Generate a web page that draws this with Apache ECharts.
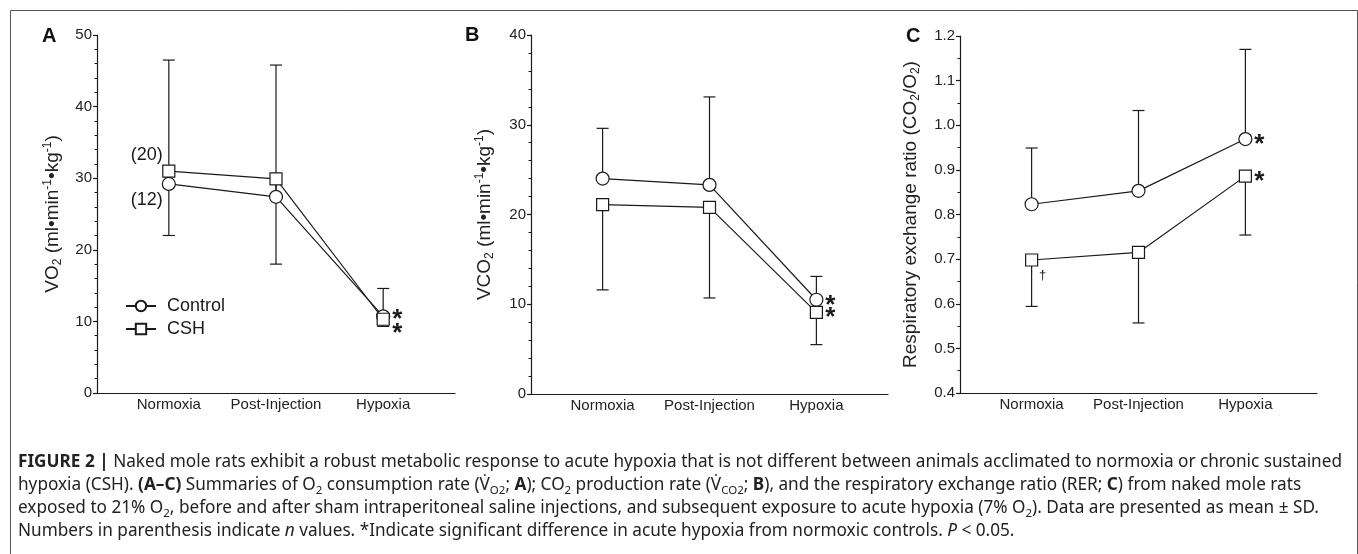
<!DOCTYPE html>
<html>
<head>
<meta charset="utf-8">
<script src="https://cdn.jsdelivr.net/npm/echarts@6/dist/echarts.min.js"></script>
<style>
html,body{margin:0;padding:0;background:#fff;}
#chart{width:1358px;height:554px;}
</style>
</head>
<body>
<div id="chart"></div>
<script>
// ---------- data ----------
const categories = ['Normoxia', 'Post-Injection', 'Hypoxia'];

// Panel A: VO2 (ml/min/kg)
const vo2Control = [29.2, 27.4, 10.7];
const vo2ControlSD = [17.3, 18.4, 3.9];   // drawn upward
const vo2CSH = [31.0, 29.9, 10.3];
const vo2CSHSD = [9.0, 11.9, 1.0];        // drawn downward

// Panel B: VCO2 (ml/min/kg)
const vco2Control = [24.0, 23.3, 10.5];
const vco2ControlSD = [5.6, 9.8, 2.6];
const vco2CSH = [21.1, 20.8, 9.1];
const vco2CSHSD = [9.5, 10.1, 3.6];

// Panel C: RER
const rerControl = [0.823, 0.853, 0.969];
const rerControlSD = [0.126, 0.180, 0.201];
const rerCSH = [0.698, 0.715, 0.886];
const rerCSHSD = [0.104, 0.158, 0.132];

// significance marks
const sigControl = [false, false, true];
const sigCSH = [false, false, true];
const daggerCSH_C = [true, false, false];

// n values (panel A, normoxia)
const nControl = 12;
const nCSH = 20;

// axis ticks
const yTicksA = {min: 0, max: 50, interval: 10};
const yTicksB = {min: 0, max: 40, interval: 10};
const yTicksC = {min: 0.4, max: 1.2, interval: 0.1};

// ---------- chart ----------
const FONT = '"Liberation Sans", Arial, Helvetica, sans-serif';
const CAPFONT = '"Noto Sans", "Liberation Sans", Arial, sans-serif';
const INK = '#1a1a1a';
const chart = echarts.init(document.getElementById('chart'), null, {renderer: 'canvas'});

const grids = [
  {left: 97, top: 35, width: 358, height: 358},
  {left: 531, top: 35, width: 357, height: 359},
  {left: 960, top: 36, width: 357, height: 357}
];

function xAxisDef(i) {
  return {
    type: 'value', gridIndex: i, min: 0.33, max: 3.67,
    axisLine: {show: true, lineStyle: {color: INK, width: 1.2}},
    axisTick: {show: false},
    splitLine: {show: false},
    axisLabel: {
      show: true, customValues: [1, 2, 3], margin: 4,
      fontSize: 15, color: '#222', fontFamily: FONT,
      formatter: v => categories[Math.round(v) - 1] || ''
    }
  };
}

function yAxisDef(i, t, name, gap, minorSplit, dec) {
  return {
    type: 'value', gridIndex: i, min: t.min, max: t.max, interval: t.interval,
    name: name, nameLocation: 'middle', nameGap: gap, nameRotate: 90,
    nameTextStyle: {
      fontFamily: FONT, color: '#222', fontSize: 19,
      rich: {
        n: {fontSize: 19, lineHeight: 22, fontFamily: FONT, color: '#222'},
        sub: {fontSize: 12, lineHeight: 14, verticalAlign: 'bottom', fontFamily: FONT, color: '#222'},
        sup: {fontSize: 12, lineHeight: 12, verticalAlign: 'top', fontFamily: FONT, color: '#222'}
      }
    },
    axisLine: {show: true, lineStyle: {color: INK, width: 1.2}},
    axisTick: {show: true, length: 4, lineStyle: {color: INK, width: 1.2}},
    minorTick: {show: true, splitNumber: minorSplit, length: 2.5, lineStyle: {color: INK, width: 1}},
    splitLine: {show: false},
    axisLabel: {
      margin: 5, fontSize: 15, color: '#222', fontFamily: FONT,
      formatter: v => dec ? v.toFixed(dec) : String(Math.round(v))
    }
  };
}

function starLabel(dy) {
  return {
    show: true, position: 'inside', formatter: '*', offset: [14, dy],
    fontSize: 26, fontWeight: 'bold', color: INK, fontFamily: FONT
  };
}

function lineSeries(name, idx, vals, symbol, size, sig, sigDy, extraLabels) {
  return {
    type: 'line', name: name, xAxisIndex: idx, yAxisIndex: idx,
    symbol: symbol, symbolSize: size, showSymbol: true,
    lineStyle: {color: INK, width: 1.2},
    itemStyle: {color: '#fff', borderColor: INK, borderWidth: 1.2},
    z: 5, silent: true, animation: false,
    data: vals.map((v, k) => {
      const item = {value: [k + 1, v]};
      if (sig[k]) item.label = starLabel(sigDy);
      if (extraLabels && extraLabels[k]) item.label = extraLabels[k];
      return item;
    })
  };
}

function errSeries(idx, means, sds, dir) {
  return {
    type: 'custom', xAxisIndex: idx, yAxisIndex: idx, z: 2, silent: true, animation: false,
    encode: {x: 0, y: [1, 2]},
    data: means.map((m, k) => [k + 1, m, m + dir * sds[k]]),
    renderItem: function (params, api) {
      const x = api.value(0);
      const p0 = api.coord([x, api.value(1)]);
      const p1 = api.coord([x, api.value(2)]);
      const hw = 6;
      const st = {stroke: INK, lineWidth: 1.2};
      return {
        type: 'group',
        children: [
          {type: 'line', shape: {x1: p0[0], y1: p0[1], x2: p1[0], y2: p1[1]}, style: st},
          {type: 'line', shape: {x1: p1[0] - hw, y1: p1[1], x2: p1[0] + hw, y2: p1[1]}, style: st}
        ]
      };
    }
  };
}

const nameA = '{n|VO}{sub|2}{n| (ml•min}{sup|-1}{n|•kg}{sup|-1}{n|)}';
const nameB = '{n|VCO}{sub|2}{n| (ml•min}{sup|-1}{n|•kg}{sup|-1}{n|)}';
const nameC = '{n|Respiratory exchange ratio (CO}{sub|2}{n|/O}{sub|2}{n|)}';

const nLabelStyle = {fontSize: 18, color: INK, fontFamily: FONT, position: 'inside', show: true};

const aCtrlLabels = [
  Object.assign({}, nLabelStyle, {formatter: '(' + nControl + ')', offset: [-22, 16]}), null, null
];
const aCSHLabels = [
  Object.assign({}, nLabelStyle, {formatter: '(' + nCSH + ')', offset: [-22, -16]}), null, null
];
const cCSHLabels = daggerCSH_C.map(d => d ? {
  show: true, position: 'inside', formatter: '†', offset: [11, 15],
  fontSize: 13, color: INK, fontFamily: FONT
} : null);

const caption =
  '{b|FIGURE 2 |} Naked mole rats exhibit a robust metabolic response to acute hypoxia that is not different between animals acclimated to normoxia or chronic sustained\n' +
  'hypoxia (CSH). {b|(A–C)} Summaries of O{sub|2} consumption rate (V\u0307{sub|O2}; {b|A}); CO{sub|2} production rate (V\u0307{sub|CO2}; {b|B}), and the respiratory exchange ratio (RER; {b|C}) from naked mole rats\n' +
  'exposed to 21% O{sub|2}, before and after sham intraperitoneal saline injections, and subsequent exposure to acute hypoxia (7% O{sub|2}). Data are presented as mean ± SD.\n' +
  'Numbers in parenthesis indicate {i|n} values. *Indicate significant difference in acute hypoxia from normoxic controls. {i|P} < 0.05.';

const CAP = 17.2;
const option = {
  backgroundColor: '#fff',
  animation: false,
  textStyle: {fontFamily: FONT},
  grid: grids,
  xAxis: [xAxisDef(0), xAxisDef(1), xAxisDef(2)],
  yAxis: [
    yAxisDef(0, yTicksA, nameA, 33, 5, 0),
    yAxisDef(1, yTicksB, nameB, 35, 5, 0),
    yAxisDef(2, yTicksC, nameC, 38, 2, 1)
  ],
  legend: {
    show: true, orient: 'vertical', left: 120, top: 292,
    itemWidth: 30, itemHeight: 13, itemGap: 5,
    selectedMode: false,
    data: ['Control', 'CSH'],
    textStyle: {fontSize: 18, color: INK, fontFamily: FONT, padding: [0, 0, 0, 6]}
  },
  series: [
    errSeries(0, vo2Control, vo2ControlSD, 1),
    errSeries(0, vo2CSH, vo2CSHSD, -1),
    lineSeries('Control', 0, vo2Control, 'circle', 13, sigControl, 3, null),
    lineSeries('CSH', 0, vo2CSH, 'rect', 12, sigCSH, 15, null),

    errSeries(1, vco2Control, vco2ControlSD, 1),
    errSeries(1, vco2CSH, vco2CSHSD, -1),
    lineSeries('Control', 1, vco2Control, 'circle', 13, sigControl, 6, null),
    lineSeries('CSH', 1, vco2CSH, 'rect', 12, sigCSH, 6, null),

    errSeries(2, rerControl, rerControlSD, 1),
    errSeries(2, rerCSH, rerCSHSD, -1),
    lineSeries('Control', 2, rerControl, 'circle', 13, sigControl, 6, null),
    lineSeries('CSH', 2, rerCSH, 'rect', 12, sigCSH, 6, cCSHLabels)
  ],
  graphic: [
    {type: 'rect', left: 8, top: 8, shape: {width: 1347, height: 560},
     style: {fill: 'none', stroke: '#555', lineWidth: 1}, silent: true, z: -1},
    {type: 'text', left: 42, top: 26, style: {text: 'A', font: 'bold 20px ' + FONT, fill: '#111'}},
    {type: 'text', left: 465, top: 25, style: {text: 'B', font: 'bold 20px ' + FONT, fill: '#111'}},
    {type: 'text', left: 906, top: 26, style: {text: 'C', font: 'bold 20px ' + FONT, fill: '#111'}},
    {type: 'text', left: 18, top: 450, style: {
      text: caption, fontSize: CAP, lineHeight: 23.3, fontFamily: CAPFONT, fill: '#222',
      rich: {
        b: {fontWeight: 'bold', fontSize: CAP, lineHeight: 23.3, fontFamily: CAPFONT, fill: '#222'},
        i: {fontStyle: 'italic', fontSize: CAP, lineHeight: 23.3, fontFamily: CAPFONT, fill: '#222'},
        sub: {fontSize: 11.5, lineHeight: 15, verticalAlign: 'bottom', fontFamily: CAPFONT, fill: '#222'}
      }
    }}
  ]
};

option.series[2].data[0].label = aCtrlLabels[0];
option.series[3].data[0].label = aCSHLabels[0];

chart.setOption(option);
</script>
</body>
</html>
